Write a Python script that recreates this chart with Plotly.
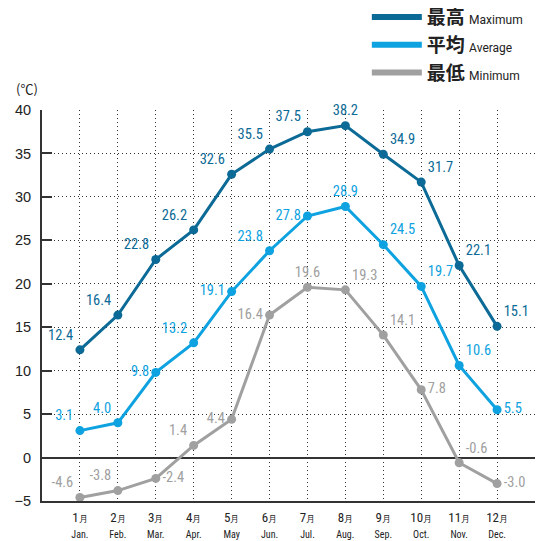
import plotly.graph_objects as go

months = list(range(1, 13))
month_jp = [f"{m}" for m in months]
month_en = ["Jan.", "Feb.", "Mar.", "Apr.", "May", "Jun.", "Jul.", "Aug.", "Sep.", "Oct.", "Nov.", "Dec."]

max_vals = [12.4, 16.4, 22.8, 26.2, 32.6, 35.5, 37.5, 38.2, 34.9, 31.7, 22.1, 15.1]
avg_vals = [3.1, 4.0, 9.8, 13.2, 19.1, 23.8, 27.8, 28.9, 24.5, 19.7, 10.6, 5.5]
min_vals = [-4.6, -3.8, -2.4, 1.4, 4.4, 16.4, 19.6, 19.3, 14.1, 7.8, -0.6, -3.0]

max_pos = ["top left"] * 7 + ["top center", "top right", "top right", "top right", "top right"]
avg_pos = ["top left", "top left", "middle left", "top left", "middle left", "top left", "middle left",
           "top center", "top right", "top right", "top right", "middle right"]
min_pos = ["top left", "top left", "middle right", "top left", "middle left", "middle left", "top center",
           "top right", "top right", "middle right", "top right", "middle right"]

C_MAX = "#0b6a96"
C_AVG = "#0ea2e0"
C_MIN = "#a0a0a0"
NARROW = "Liberation Sans Narrow, Roboto Condensed, Roboto, sans-serif"
JP = "Noto Sans CJK JP, sans-serif"

def fmt(v):
    return f"{v:.1f}"

fig = go.Figure()
series = [
    ("最高", "Maximum", max_vals, C_MAX, max_pos),
    ("平均", "Average", avg_vals, C_AVG, avg_pos),
    ("最低", "Minimum", min_vals, C_MIN, min_pos),
]
for jp, en, vals, col, pos in series:
    fig.add_trace(go.Scatter(
        x=months, y=vals, mode="lines+markers+text",
        showlegend=False,
        line=dict(color=col, width=3),
        marker=dict(color=col, size=9),
        text=[fmt(v) for v in vals], textposition=pos,
        textfont=dict(color=col, size=14.5, family=NARROW),
        cliponaxis=False,
    ))
for jp, en, vals, col, pos in series:
    fig.add_trace(go.Scatter(
        x=[None], y=[None], mode="lines",
        name=f"<b>{jp}</b> <span style='font-size:12px;font-family:Roboto'>{en}</span>",
        line=dict(color=col, width=6),
    ))

ticktext = [f"<span style='font-size:13px'>{j}</span><span style='font-size:9px'>月</span><br><span style='font-size:10px'>{e}</span>"
            for j, e in zip(month_jp, month_en)]

DOT = "1px,3px"
fig.update_layout(
    width=547, height=533,
    margin=dict(l=34, r=20, t=102, b=40, autoexpand=False),
    paper_bgcolor="white", plot_bgcolor="white",
    font=dict(family="Liberation Sans, Arial, sans-serif", color="#222"),
    showlegend=True,
    legend=dict(xref="container", yref="paper", x=0.656, y=1.286, xanchor="left", yanchor="top",
                font=dict(size=19, color="#222", family=JP), tracegroupgap=0,
                bgcolor="rgba(0,0,0,0)", itemwidth=50),
    xaxis=dict(range=[0, 13], tickvals=months, ticktext=ticktext, showgrid=True,
               griddash=DOT, gridcolor="#333", gridwidth=1, showline=True, linecolor="#333",
               linewidth=2, ticks="", zeroline=False, tickfont=dict(family=NARROW, color="#222"),
               ticklabelstandoff=5),
    yaxis=dict(range=[-5, 40], tickvals=list(range(-5, 45, 5)), showgrid=True, griddash=DOT,
               gridcolor="#333", gridwidth=1, showline=True, linecolor="#333", linewidth=2,
               ticks="inside", ticklen=10, tickwidth=2, tickcolor="#333",
               zeroline=True, zerolinecolor="#333", zerolinewidth=1.5,
               tickfont=dict(size=14.5, color="#222"), ticklabelstandoff=6),
    annotations=[
        dict(text="(℃)", xref="paper", yref="paper", x=-0.03, y=1.055, showarrow=False,
             xanchor="center", yanchor="middle", font=dict(size=13, color="#222", family=JP)),
        dict(text="（平成29年）", xref="paper", yref="paper", x=-0.075, y=1.28, showarrow=False,
             xanchor="left", yanchor="middle", font=dict(size=13, color="#222", family=JP)),
    ],
)

fig.write_html("out.html")
